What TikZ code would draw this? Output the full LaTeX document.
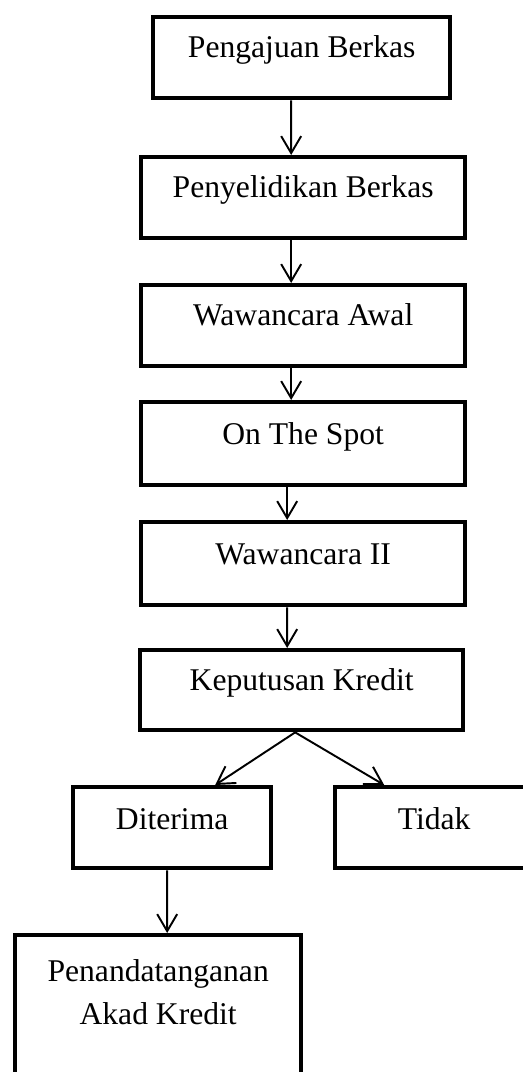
\documentclass[tikz,border=0pt]{standalone}
\usepackage{fontspec}
\setmainfont{Liberation Serif}
\usetikzlibrary{arrows.meta}
\tikzset{box/.style={draw, line width=2.5pt, inner sep=0pt, anchor=north west,
    font=\fontsize{18}{24.5}\selectfont}}
\tikzset{arr/.style={-{Straight Barb[length=0.34cm,width=0.4cm]}, line width=1.1pt}}

\begin{document}
\begin{tikzpicture}[x=0.02cm, y=-0.02cm]
    \useasboundingbox (0,0) rectangle (523,1072);
    % alur pengajuan kredit
    \node[box, minimum width=5.94cm, text height=0.8cm, text depth=0.82cm] (aju) at (151,15) {Pengajuan Berkas};
    \node[box, minimum width=6.48cm, text height=0.8cm, text depth=0.82cm] (selidik) at (139,155) {Penyelidikan Berkas};
    \node[box, minimum width=6.48cm, text height=0.8cm, text depth=0.82cm] (awal) at (139,283) {Wawancara Awal};
    \node[box, minimum width=6.48cm, text height=0.84cm, text depth=0.82cm] (spot) at (139,400) {On The Spot};
    \node[box, minimum width=6.48cm, text height=0.84cm, text depth=0.82cm] (dua) at (139,520) {Wawancara II};
    \node[box, minimum width=6.46cm, text height=0.8cm, text depth=0.8cm] (putus) at (138,648) {Keputusan Kredit};
    % hasil keputusan
    \node[box, minimum width=3.96cm, text height=0.84cm, text depth=0.78cm] (terima) at (71,785) {Diterima};
    \node[box, minimum width=3.96cm, text height=0.84cm, text depth=0.78cm] (tidak) at (333,785) {Tidak};
    \node[box, minimum width=5.72cm, text height=1.78cm, text depth=1.46cm, align=center] (akad) at (13,933) {Penandatanganan\\Akad Kredit};

    \draw[arr] ([xshift=-0.21cm]aju.south) -- ([xshift=-0.24cm]selidik.north);
    \draw[arr] ([xshift=-0.24cm]selidik.south) -- ([xshift=-0.24cm]awal.north);
    \draw[arr] ([xshift=-0.24cm]awal.south) -- ([xshift=-0.24cm]spot.north);
    \draw[arr] ([xshift=-0.32cm]spot.south) -- ([xshift=-0.32cm]dua.north);
    \draw[arr] ([xshift=-0.32cm]dua.south) -- ([xshift=-0.29cm]putus.north);
    \draw[arr] ([xshift=-0.13cm]putus.south) -- ([xshift=0.86cm]terima.north);
    \draw[arr] ([xshift=-0.13cm]putus.south) -- ([xshift=-1.0cm]tidak.north);
    \draw[arr] ([xshift=-0.1cm]terima.south) -- ([xshift=0.18cm]akad.north);
\end{tikzpicture}
\end{document}
